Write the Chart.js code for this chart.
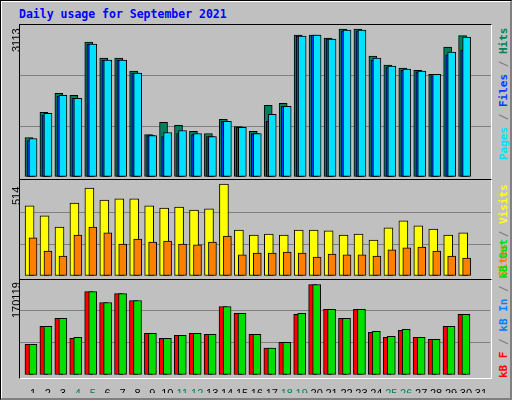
<!DOCTYPE html>
<html><head><meta charset="utf-8">
<script src="https://cdn.jsdelivr.net/npm/chart.js@4/dist/chart.umd.min.js"></script>
<style>
html,body{margin:0;padding:0;}
body{width:512px;height:400px;background:#c0c0c0;position:relative;overflow:hidden;font-family:"DejaVu Sans Mono",monospace;}
#frame{position:absolute;left:0;top:0;width:510px;height:398px;border:1px solid #000;border-right-color:#808080;border-bottom-color:#808080;}
#frame2{position:absolute;left:1px;top:1px;width:508px;height:396px;border:1px solid #fff;border-right-color:#808080;border-bottom-color:#808080;}
#title{position:absolute;left:19px;top:7px;color:#0000ff;font-weight:bold;font-size:11.5px;}
.panel{position:absolute;left:19px;width:471px;border:1px solid #000;border-right-color:#fff;border-bottom-color:#fff;}
.cv{position:absolute;}
.lab{position:absolute;transform-origin:0 0;transform:rotate(-90deg);font-family:"Liberation Sans",Arial,sans-serif;font-size:11px;color:#000;white-space:nowrap;}
.leg{position:absolute;transform-origin:0 0;transform:rotate(-90deg);font-size:11px;font-weight:bold;white-space:nowrap;}
</style></head><body>
<div id="frame"></div><div id="frame2"></div>
<div id="title">Daily usage for September 2021</div>
<div class="panel" style="top:24px;height:154px;"></div>
<div class="panel" style="top:179px;height:99px;"></div>
<div class="panel" style="top:279px;height:98px;"></div>
<div class="cv" style="left:20px;top:25px;width:471px;height:152px;"><canvas id="c1"></canvas></div>
<div class="cv" style="left:20px;top:181px;width:471px;height:95px;"><canvas id="c2"></canvas></div>
<div class="cv" style="left:20px;top:278px;width:471px;height:115px;"><canvas id="c3"></canvas></div>
<div class="lab" style="left:10px;top:52px;">3113</div>
<div class="lab" style="left:10px;top:205px;">514</div>
<div class="lab" style="left:10px;top:318px;">170119</div>
<div class="leg" style="left:497px;top:160px;"><span style="color:#00e0ff">Pages</span><span style="color:#808080"> / </span><span style="color:#0040ff">Files</span><span style="color:#808080"> / </span><span style="color:#00805c">Hits</span></div>
<div class="leg" style="left:497px;top:277px;"><span style="color:#ff8000">Sites</span><span style="color:#808080"> / </span><span style="color:#ffff00">Visits</span></div>
<div class="leg" style="left:497px;top:378px;"><span style="color:#ff0000">kB F</span><span style="color:#808080"> / </span><span style="color:#0080ff">kB In</span><span style="color:#808080"> / </span><span style="color:#00e000">kB Out</span></div>
<script>
const days=[1,2,3,4,5,6,7,8,9,10,11,12,13,14,15,16,17,18,19,20,21,22,23,24,25,26,27,28,29,30];
const dayLabels=['1','2','3','4','5','6','7','8','9','10','11','12','13','14','15','16','17','18','19','20','21','22','23','24','25','26','27','28','29','30','31'];
const weekendDays=[4,5,11,12,18,19,25,26];
const hits=[809,1323,1714,1673,2763,2434,2434,2167,871,1118,1056,933,891,1179,1035,933,1467,1509,2907,2907,2846,3031,3031,2475,2290,2229,2187,2105,2661,2894];
const files=[789,1303,1673,1611,2722,2393,2393,2126,850,912,953,891,830,1138,1015,891,1282,1447,2887,2907,2825,3010,3010,2434,2270,2208,2167,2105,2558,2866];
const pages=[747,1262,1653,1611,2722,2393,2393,2126,850,830,891,871,830,1138,1015,891,1138,1447,2887,2907,2825,2990,2990,2393,2249,2187,2153,2105,2496,2599];
const visits=[379,325,265,395,476,411,417,417,379,368,373,357,363,498,249,222,227,222,249,249,244,222,227,195,260,298,271,254,222,233];
const sites=[206,135,108,222,265,233,173,200,184,189,173,168,184,216,114,124,124,130,124,103,119,114,114,108,141,152,157,135,108,97];
const kbF=[54000,85350,99280,64450,146300,127150,142830,130640,73160,64450,69670,73160,71410,120180,107990,71410,47030,57480,106250,158500,114960,99280,114960,74900,66190,78380,66190,62700,85350,106250];
const kbOut=[54000,85350,99280,66190,146300,127150,142830,130640,73160,64450,69670,73160,71410,120180,107990,71410,47030,57480,107990,158500,114960,99280,114960,76640,67930,80120,66190,62700,85350,106250];
const maxTop=3113, maxMid=514, maxBot=170119;

function ds(vals,off,color,w){
  return {data:days.map((d,i)=>({x:d+off,y:vals[i]})),backgroundColor:color,borderColor:'#000',borderWidth:1,borderSkipped:false,barThickness:w,grouped:false};
}
function opts(max,showX){
  return {responsive:true,maintainAspectRatio:false,animation:false,
    layout:{padding:0},
    plugins:{legend:{display:false},tooltip:{enabled:false}},
    scales:{
      x:{type:'linear',min:0.13,max:31.63,display:showX,offset:false,
        grid:{display:false,offset:false},border:{display:false},
        afterBuildTicks:s=>{s.ticks=dayLabels.map((l,i)=>({value:i+1}));},
        afterFit:s=>{if(showX)s.height=18;},
        ticks:{padding:4,autoSkip:false,maxRotation:0,font:{family:'Liberation Sans',size:11},
          callback:(v)=>dayLabels[v-1],
          color:c=>weekendDays.includes(c.tick.value)?'#00805c':'#000'}},
      y:{min:0,max:max,
        afterBuildTicks:s=>{s.ticks=[{value:0},{value:max/3},{value:2*max/3}];},
        afterFit:s=>{s.width=0;},
        ticks:{display:false},border:{display:false},
        grid:{color:c=>c.tick.value===0?'rgba(0,0,0,0)':'#808080',lineWidth:1,drawTicks:false}}
    }};
}
new Chart(document.getElementById('c1'),{type:'bar',data:{datasets:[
  ds(hits,-0.27,'#00805c',8),ds(pages,-0.13,'#0040ff',8),ds(files,0,'#00e0ff',8)].reverse()},
  options:opts(maxTop,false)});
new Chart(document.getElementById('c2'),{type:'bar',data:{datasets:[
  ds(visits,-0.23,'#ffff00',9),ds(sites,0,'#ff8000',8)].reverse()},
  options:opts(maxMid,false)});
new Chart(document.getElementById('c3'),{type:'bar',data:{datasets:[
  ds(kbF,-0.27,'#ff0000',8),ds(kbOut,0,'#00e000',8)].reverse()},
  options:opts(maxBot,true)});
</script></body></html>
